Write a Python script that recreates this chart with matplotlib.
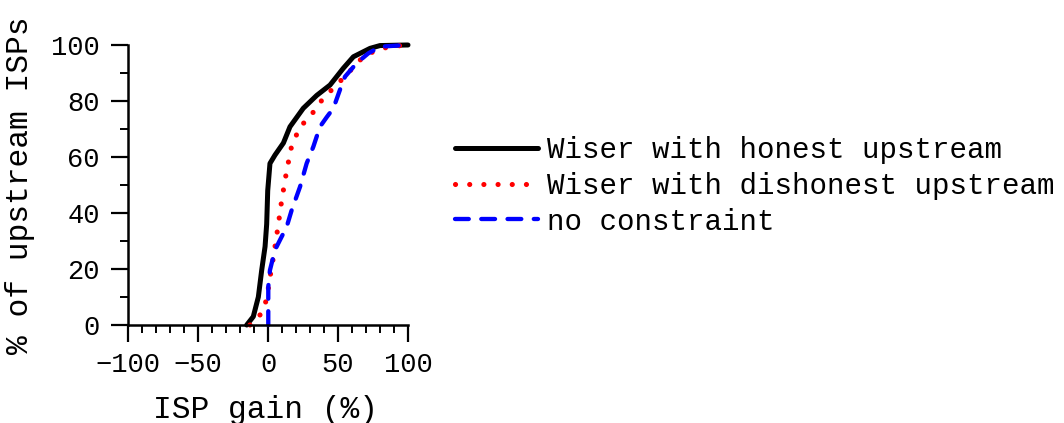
import matplotlib
matplotlib.use("Agg")
import matplotlib.pyplot as plt
from matplotlib.ticker import MultipleLocator

plt.rcParams['font.family'] = ['Liberation Mono', 'DejaVu Sans Mono']

# CDF points: ISP gain (%) vs cumulative % of upstream ISPs
honest_gain = [-15.2, -10.5, -6.9, -4.5, -2.1, -0.95, -0.2, 1.4, 5.0, 11.0, 15.7,
               25.2, 34.8, 44.3, 53.8, 61.0, 72.9, 80.0, 99.0, 100.0]
honest_pct = [0.0, 3.0, 10.0, 19.6, 28.0, 36.0, 48.0, 57.7, 60.7, 65.0, 70.8,
              77.4, 82.0, 85.7, 91.7, 95.8, 98.8, 99.8, 100.0, 100.0]

dishonest_gain = [-12.9, -5.7, -1.0, 1.4, 3.8, 7.4, 9.8, 13.3, 16.9, 22.9, 30.0,
                  39.5, 49.0, 61.0, 68.0, 77.6, 87.0, 99.0, 100.0]
dishonest_pct = [0.0, 3.6, 9.0, 17.0, 24.0, 36.0, 44.6, 55.0, 64.0, 70.8, 74.4,
                 81.0, 85.7, 92.0, 95.8, 98.2, 99.4, 100.0, 100.0]

noconstr_gain = [0.2, 0.2, 1.4, 5.0, 8.6, 13.3, 16.9, 22.9, 27.6, 32.4, 37.1,
                 41.9, 46.7, 51.4, 55.0, 63.3, 71.6, 80.0, 99.0, 100.0]
noconstr_pct = [0.0, 13.7, 19.6, 26.8, 30.4, 35.0, 41.0, 49.4, 57.7, 63.7, 70.8,
                74.2, 77.4, 84.0, 88.7, 93.5, 97.0, 99.4, 100.0, 100.0]

labels = ["Wiser with honest upstream", "Wiser with dishonest upstream", "no constraint"]

fig = plt.figure(figsize=(10.64, 4.23), dpi=100)
ax = fig.add_axes([128 / 1064, 1 - 325 / 423, 280 / 1064, 280 / 423])

l1, = ax.plot(honest_gain, honest_pct, color='black', lw=3.6, solid_capstyle='round',
              solid_joinstyle='round', clip_on=False, label=labels[0])
l2, = ax.plot(dishonest_gain, dishonest_pct, color='red', lw=3.7, linestyle=(0, (0.01, 2.75)),
              dash_capstyle='round', clip_on=False, label=labels[1])
l3, = ax.plot(noconstr_gain, noconstr_pct, color='blue', lw=3.1, linestyle=(0, (3.2, 2.9)),
              dash_capstyle='round', clip_on=False, label=labels[2])

ax.set_xlim(-100, 100)
ax.set_ylim(0, 100)
ax.xaxis.set_major_locator(MultipleLocator(50))
ax.xaxis.set_minor_locator(MultipleLocator(10))
ax.yaxis.set_major_locator(MultipleLocator(20))
ax.yaxis.set_minor_locator(MultipleLocator(10))

for side in ('top', 'right'):
    ax.spines[side].set_visible(False)
for side in ('left', 'bottom'):
    ax.spines[side].set_linewidth(1.8)

ax.tick_params(which='major', direction='out', length=12.2, width=1.6, labelsize=19.5, pad=7)
ax.tick_params(which='minor', direction='out', length=6, width=1.4)
ax.tick_params(axis='y', which='major', pad=8)

ax.set_xlabel("ISP gain (%)", fontsize=22.5)
ax.set_ylabel("% of upstream ISPs", fontsize=22.5)
ax.xaxis.set_label_coords(0.49, -0.25)
ax.yaxis.set_label_coords(-0.332, 0.5)

fig.legend(handles=[l1, l2, l3], loc='center left', bbox_to_anchor=(455 / 1064, 1 - 186 / 423),
           frameon=False, fontsize=21, handlelength=2.85, handletextpad=0.3,
           labelspacing=0.26, borderpad=0, borderaxespad=0)

fig.savefig("out.png", dpi=100)
